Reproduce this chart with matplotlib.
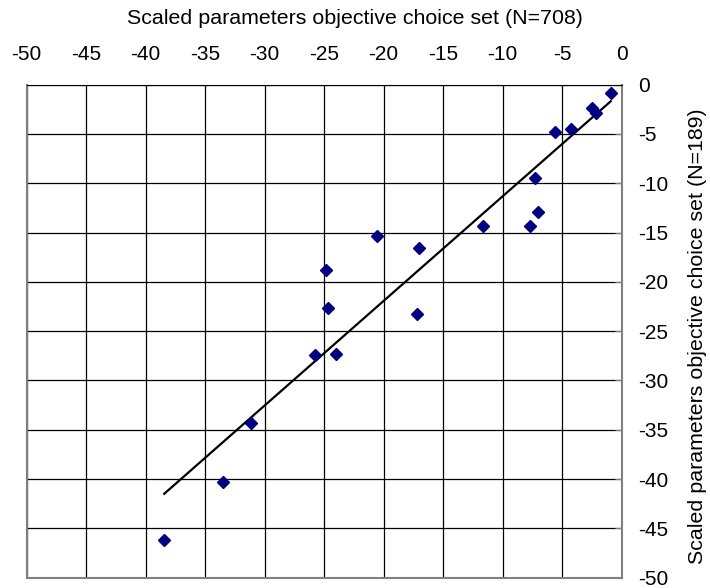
import matplotlib
matplotlib.use("Agg")
import matplotlib.pyplot as plt
import numpy as np

plt.rcParams['font.family'] = ['Liberation Sans', 'DejaVu Sans']
plt.rcParams['axes.unicode_minus'] = False

# scaled parameters, objective choice set N=708 (x) vs N=189 (y)
x_708 = [-0.92, -2.52, -2.18, -5.6, -4.29, -7.26, -7.0, -7.73, -11.66, -20.54,
         -17.0, -17.18, -24.87, -24.7, -25.8, -23.98, -31.18, -33.53, -38.44]
y_189 = [-0.87, -2.4, -2.87, -4.77, -4.53, -9.43, -12.9, -14.3, -14.3, -15.3,
         -16.6, -23.3, -18.8, -22.6, -27.4, -27.3, -34.3, -40.3, -46.2]

x_ticks = list(range(-50, 1, 5))
y_ticks = list(range(-50, 1, 5))

fig = plt.figure(figsize=(7.1, 5.88), dpi=100)
ax = fig.add_axes([0.0376, 0.0175, 0.838, 0.8385])

ax.set_xlim(-50, 0)
ax.set_ylim(-50, 0)
ax.set_xticks(x_ticks)
ax.set_yticks(y_ticks)
ax.grid(True, color='black', linewidth=0.9)
ax.set_axisbelow(True)

ax.xaxis.tick_top()
ax.yaxis.tick_right()
ax.tick_params(axis='x', length=0, pad=15, labelsize=15)
ax.tick_params(axis='y', direction='in', length=5, color='#808080', pad=12, labelsize=15)

for side in ['left', 'bottom', 'right']:
    ax.spines[side].set_color('#808080')
    ax.spines[side].set_linewidth(1.5)
ax.spines['top'].set_color('black')

# linear trend line
xs = np.array(x_708)
ys = np.array(y_189)
k, b = np.polyfit(xs, ys, 1)
xl = np.array([xs.min(), xs.max()])
ax.plot(xl, k * xl + b, color='black', linewidth=1.6, zorder=3)

ax.plot(x_708, y_189, linestyle='none', marker='D', markersize=6.5,
        color='#000080', zorder=4)

ax.set_xlabel('Scaled parameters objective choice set (N=708)', fontsize=15.4)
ax.xaxis.set_label_coords(0.551, 1.135)
ax.xaxis.label.set_va('center')
ax.xaxis.label.set_ha('center')

ax.set_ylabel('Scaled parameters objective choice set (N=189)', fontsize=15.4)
ax.yaxis.set_label_coords(1.127, 0.49)
ax.yaxis.label.set_rotation(90)
ax.yaxis.label.set_va('center')
ax.yaxis.label.set_ha('center')

fig.savefig('out.png', dpi=100)
